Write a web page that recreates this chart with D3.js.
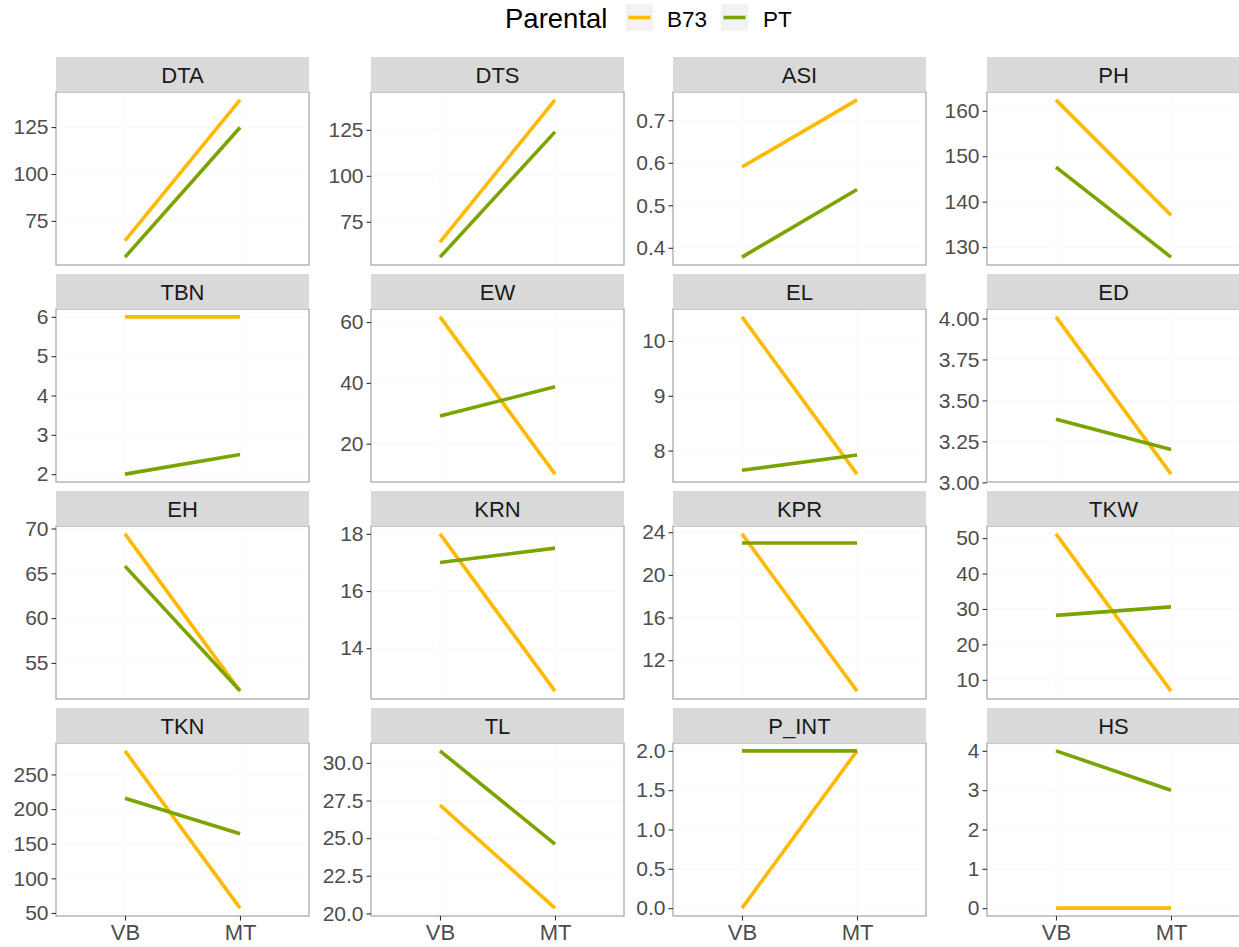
<!DOCTYPE html>
<html>
<head>
<meta charset="utf-8">
<script src="https://cdn.jsdelivr.net/npm/d3@7"></script>
<style>
  html, body { margin: 0; padding: 0; background: #fff; }
  svg { display: block; font-family: "Liberation Sans", Arial, sans-serif; }
</style>
</head>
<body>
<svg id="chart" width="1239" height="947"></svg>
<script>
// Trait panels, in facet order (4 x 4)
const traits = ["DTA", "DTS", "ASI", "PH", "TBN", "EW", "EL", "ED",
                "EH", "KRN", "KPR", "TKW", "TKN", "TL", "P_INT", "HS"];
const environments = ["VB", "MT"];
const parentals = ["B73", "PT"];

// Mean trait value per environment [VB, MT]
const b73Values = [
  [64.5, 139.5], [64.0, 141.3], [0.59, 0.748], [162.4, 137.0],
  [6, 6], [61.7, 10.0], [10.44, 7.57], [4.01, 3.05],
  [69.4, 51.85], [18.0, 12.5], [23.85, 9.1], [51.2, 6.8],
  [284, 57], [27.2, 20.35], [0, 2], [0, 0]
];
const ptValues = [
  [55.7, 124.8], [55.8, 123.9], [0.378, 0.537], [147.6, 127.8],
  [2, 2.5], [29.1, 38.7], [7.64, 7.92], [3.385, 3.2],
  [65.8, 51.9], [17.0, 17.5], [23, 23], [28.2, 30.6],
  [215.5, 164.5], [30.8, 24.6], [2, 2], [4, 3]
];

// Y-axis tick labels per panel
const tickLabels = [
  ["75", "100", "125"], ["75", "100", "125"], ["0.4", "0.5", "0.6", "0.7"], ["130", "140", "150", "160"],
  ["2", "3", "4", "5", "6"], ["20", "40", "60"], ["8", "9", "10"], ["3.00", "3.25", "3.50", "3.75", "4.00"],
  ["55", "60", "65", "70"], ["14", "16", "18"], ["12", "16", "20", "24"], ["10", "20", "30", "40", "50"],
  ["50", "100", "150", "200", "250"], ["20.0", "22.5", "25.0", "27.5", "30.0"], ["0.0", "0.5", "1.0", "1.5", "2.0"], ["0", "1", "2", "3", "4"]
];

const colors = { B73: "#FFB900", PT: "#7BA400" };

const svg = d3.select("#chart");

// Facet geometry
const colX = [56, 371, 673, 987];
const stripTop = [57, 274, 491, 708];
const panelW = 253, stripH = 35, panelH = 173;

const x = d3.scalePoint().domain(environments).range([0, panelW]).padding(0.6);

traits.forEach((trait, i) => {
  const col = i % 4, row = Math.floor(i / 4);
  const px = colX[col], sy = stripTop[row], py = sy + stripH;
  const series = [
    { name: "B73", values: b73Values[i] },
    { name: "PT", values: ptValues[i] }
  ];
  const all = series.flatMap(s => s.values);
  const lo = d3.min(all), hi = d3.max(all);
  const pad = (hi - lo) * 0.05 || 0.5;
  const y = d3.scaleLinear().domain([lo - pad, hi + pad]).range([panelH, 0]);
  const ticks = tickLabels[i].map(Number);

  const g = svg.append("g").attr("transform", `translate(${px},${py})`);

  // strip
  svg.append("rect").attr("x", px).attr("y", sy).attr("width", panelW).attr("height", stripH)
    .attr("fill", "#D9D9D9");
  svg.append("text").attr("x", px + panelW / 2).attr("y", sy + 26)
    .attr("text-anchor", "middle").attr("font-size", 22).attr("fill", "#1a1a1a").text(trait);

  // panel background and faint grid
  g.append("rect").attr("width", panelW).attr("height", panelH).attr("fill", "#fff");
  g.selectAll(".gy").data(ticks).join("line")
    .attr("x1", 0).attr("x2", panelW).attr("y1", d => y(d)).attr("y2", d => y(d))
    .attr("stroke", "#f8f8f8").attr("stroke-width", 1);
  g.selectAll(".gx").data(environments).join("line")
    .attr("y1", 0).attr("y2", panelH).attr("x1", d => x(d)).attr("x2", d => x(d))
    .attr("stroke", "#f8f8f8").attr("stroke-width", 1);

  // lines
  const line = d3.line().x((d, j) => x(environments[j])).y(d => y(d));
  g.selectAll(".series").data(series).join("path")
    .attr("d", d => line(d.values))
    .attr("fill", "none")
    .attr("stroke", d => colors[d.name])
    .attr("stroke-width", 3.6);

  // panel border
  g.append("rect").attr("width", panelW).attr("height", panelH)
    .attr("fill", "none").attr("stroke", "#a3a3a3").attr("stroke-width", 1.2);

  // y axis
  const yAxis = d3.axisLeft(y).tickValues(ticks).tickFormat((d, k) => tickLabels[i][k])
    .tickSize(4.5).tickPadding(3);
  const ya = g.append("g").call(yAxis);
  ya.select(".domain").remove();
  ya.selectAll(".tick line").attr("stroke", "#333").attr("stroke-width", 1.1);
  ya.selectAll(".tick text").attr("fill", "#4d4d4d").attr("font-size", 21)
    .attr("font-family", "Liberation Sans, Arial, sans-serif");

  // x axis on bottom row only
  if (row === 3) {
    const xa = g.append("g").attr("transform", `translate(0,${panelH})`)
      .call(d3.axisBottom(x).tickSize(4.5).tickPadding(4));
    xa.select(".domain").remove();
    xa.selectAll(".tick line").attr("stroke", "#333").attr("stroke-width", 1.1);
    xa.selectAll(".tick text").attr("fill", "#4d4d4d").attr("font-size", 22)
      .attr("font-family", "Liberation Sans, Arial, sans-serif");
  }
});

// legend
const legend = svg.append("g");
legend.append("text").attr("x", 505).attr("y", 28).attr("font-size", 27.5).attr("fill", "#000")
  .text("Parental");
const keyX = [626, 721];
const labelX = [667, 763];
parentals.forEach((p, k) => {
  legend.append("rect").attr("x", keyX[k]).attr("y", 4).attr("width", 27).attr("height", 27)
    .attr("fill", "#f2f2f2");
  legend.append("line").attr("x1", keyX[k] + 2.5).attr("x2", keyX[k] + 24.5)
    .attr("y1", 17.5).attr("y2", 17.5).attr("stroke", colors[p]).attr("stroke-width", 3.6);
  legend.append("text").attr("x", labelX[k]).attr("y", 27).attr("font-size", 22.5).attr("fill", "#000")
    .text(p);
});
</script>
</body>
</html>
